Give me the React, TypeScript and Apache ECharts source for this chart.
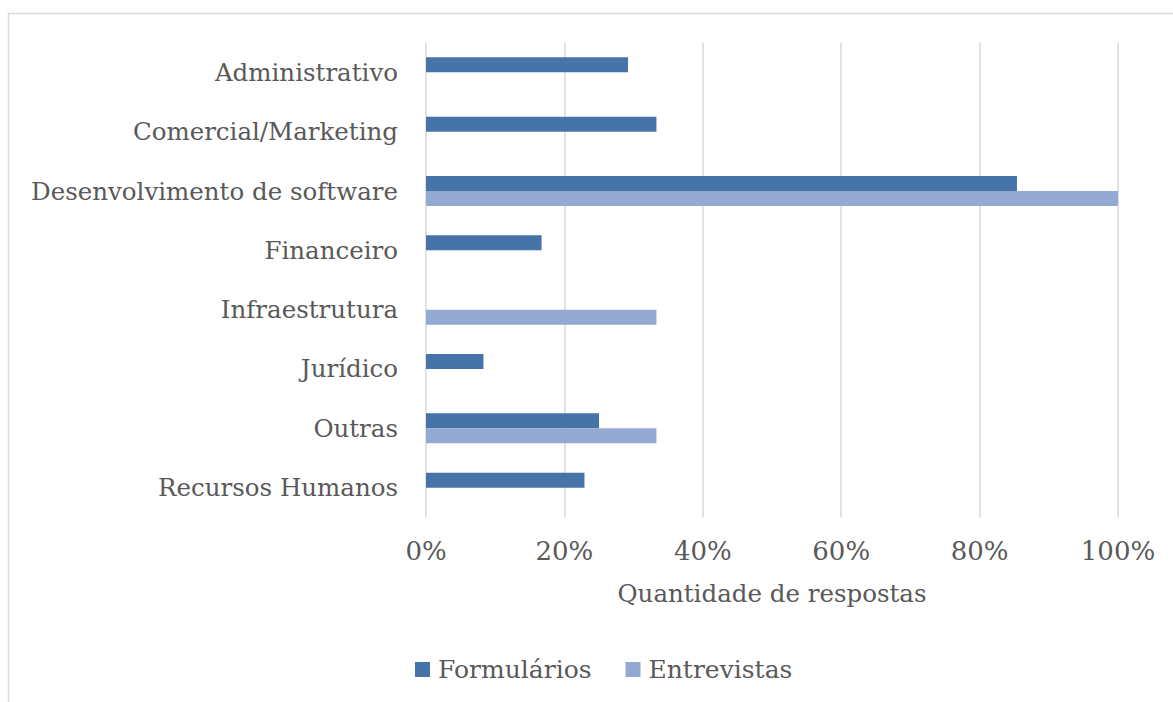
import React, { useEffect, useRef } from "react";
import * as echarts from "echarts";

const categories = [
  "Administrativo",
  "Comercial/Marketing",
  "Desenvolvimento de software",
  "Financeiro",
  "Infraestrutura",
  "Jurídico",
  "Outras",
  "Recursos Humanos",
];
const formularios = [29.2, 33.3, 85.4, 16.7, null, 8.3, 25.0, 22.9];
const entrevistas = [null, null, 100, null, 33.3, null, 33.3, null];
const xTicks = [0, 20, 40, 60, 80, 100];

const FONT = "DejaVu Serif";
const TEXT = "#595959";

export default function App() {
  const ref = useRef<HTMLDivElement>(null);
  useEffect(() => {
    document.body.style.margin = "0";
    const chart = echarts.init(ref.current!, null, { renderer: "svg" });
    chart.setOption({
      animation: false,
      backgroundColor: "#ffffff",
      textStyle: { fontFamily: FONT, color: TEXT },
      graphic: [
        {
          type: "rect",
          shape: { x: 8.5, y: 13.5, width: 1300, height: 800 },
          style: { fill: "none", stroke: "#d9d9d9", lineWidth: 1.5 },
          silent: true,
        },
      ],
      grid: { left: 426, right: 55, top: 42.7, bottom: 184.7, containLabel: false },
      xAxis: {
        type: "value",
        min: xTicks[0],
        max: xTicks[xTicks.length - 1],
        interval: 20,
        axisLine: { show: false },
        axisTick: { show: false },
        splitLine: { show: true, lineStyle: { color: "#d9d9d9", width: 1.5 } },
        axisLabel: {
          formatter: "{value}%",
          fontFamily: FONT,
          fontSize: 26,
          color: TEXT,
          margin: 21,
        },
        name: "Quantidade de respostas",
        nameLocation: "middle",
        nameGap: 64,
        nameTextStyle: { fontFamily: FONT, fontSize: 24.5, color: TEXT },
      },
      yAxis: {
        type: "category",
        data: categories,
        inverse: true,
        axisLine: { show: false },
        axisTick: { show: false },
        splitLine: { show: false },
        axisLabel: { fontFamily: FONT, fontSize: 24.5, color: TEXT, margin: 28 },
      },
      legend: {
        left: 410,
        top: 652,
        itemWidth: 15,
        itemHeight: 15,
        itemGap: 34,
        icon: "rect",
        textStyle: { fontFamily: FONT, fontSize: 25, color: TEXT, padding: [0, 0, 0, 3] },
        data: ["Formulários", "Entrevistas"],
      },
      series: [
        {
          name: "Formulários",
          type: "bar",
          data: formularios,
          barWidth: 15,
          barGap: "0%",
          itemStyle: { color: "#4674a8" },
        },
        {
          name: "Entrevistas",
          type: "bar",
          data: entrevistas,
          barWidth: 15,
          barGap: "0%",
          itemStyle: { color: "#94a9d1" },
        },
      ],
    });
    return () => chart.dispose();
  }, []);
  return <div ref={ref} style={{ width: 1173, height: 702 }} />;
}
